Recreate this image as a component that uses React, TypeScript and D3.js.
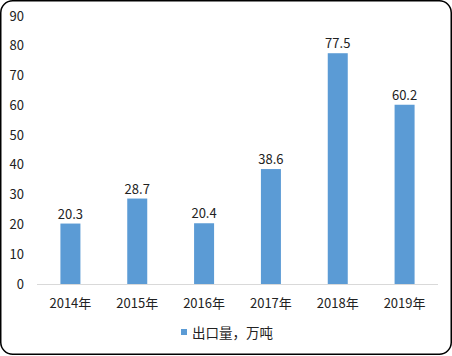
import React from "react";
import * as d3 from "d3";

const categories = ["2014年", "2015年", "2016年", "2017年", "2018年", "2019年"];
const values = [20.3, 28.7, 20.4, 38.6, 77.5, 60.2];
const yTicks = [0, 10, 20, 30, 40, 50, 60, 70, 80, 90];
const seriesName = "出口量，万吨";

const W = 452, H = 356;
const FONT = "'Noto Sans CJK SC', 'Noto Sans', sans-serif";

export default function App() {
  const x = d3.scaleBand<string>().domain(categories).range([37, 438]).paddingInner(0).paddingOuter(0);
  const y = d3.scaleLinear().domain([0, 90]).range([284, 16]);
  const barW = 20;
  return (
    <svg width={W} height={H} style={{ position: "absolute", left: 0, top: 0 }} fontFamily={FONT}>
      <rect x={0.75} y={0.75} width={W - 1.5} height={H - 2.5} rx={12} fill="white" stroke="#000" strokeWidth={1.5} />
      {yTicks.map((t) => (
        <text key={t} x={24} y={y(t)} dy="0.35em" textAnchor="end" fontSize={13} fill="#222">{t}</text>
      ))}
      {categories.map((c, i) => {
        const cx = (x(c) as number) + x.bandwidth() / 2;
        return (
          <g key={c}>
            <rect x={cx - barW / 2} y={y(values[i])} width={barW} height={y(0) - y(values[i])} fill="#5B9BD5" />
            <text x={cx} y={y(values[i]) - 5} textAnchor="middle" fontSize={13} fill="#222">{values[i]}</text>
            <text x={cx} y={303} dy="0.35em" textAnchor="middle" fontSize={13} fill="#222">{c}</text>
          </g>
        );
      })}
      <line x1={37} x2={438} y1={284.5} y2={284.5} stroke="#D9D9D9" strokeWidth={1} />
      <rect x={181} y={329} width={6} height={6} fill="#5B9BD5" />
      <text x={192} y={333} dy="0.35em" fontSize={13.5} fill="#222">{seriesName}</text>
    </svg>
  );
}
